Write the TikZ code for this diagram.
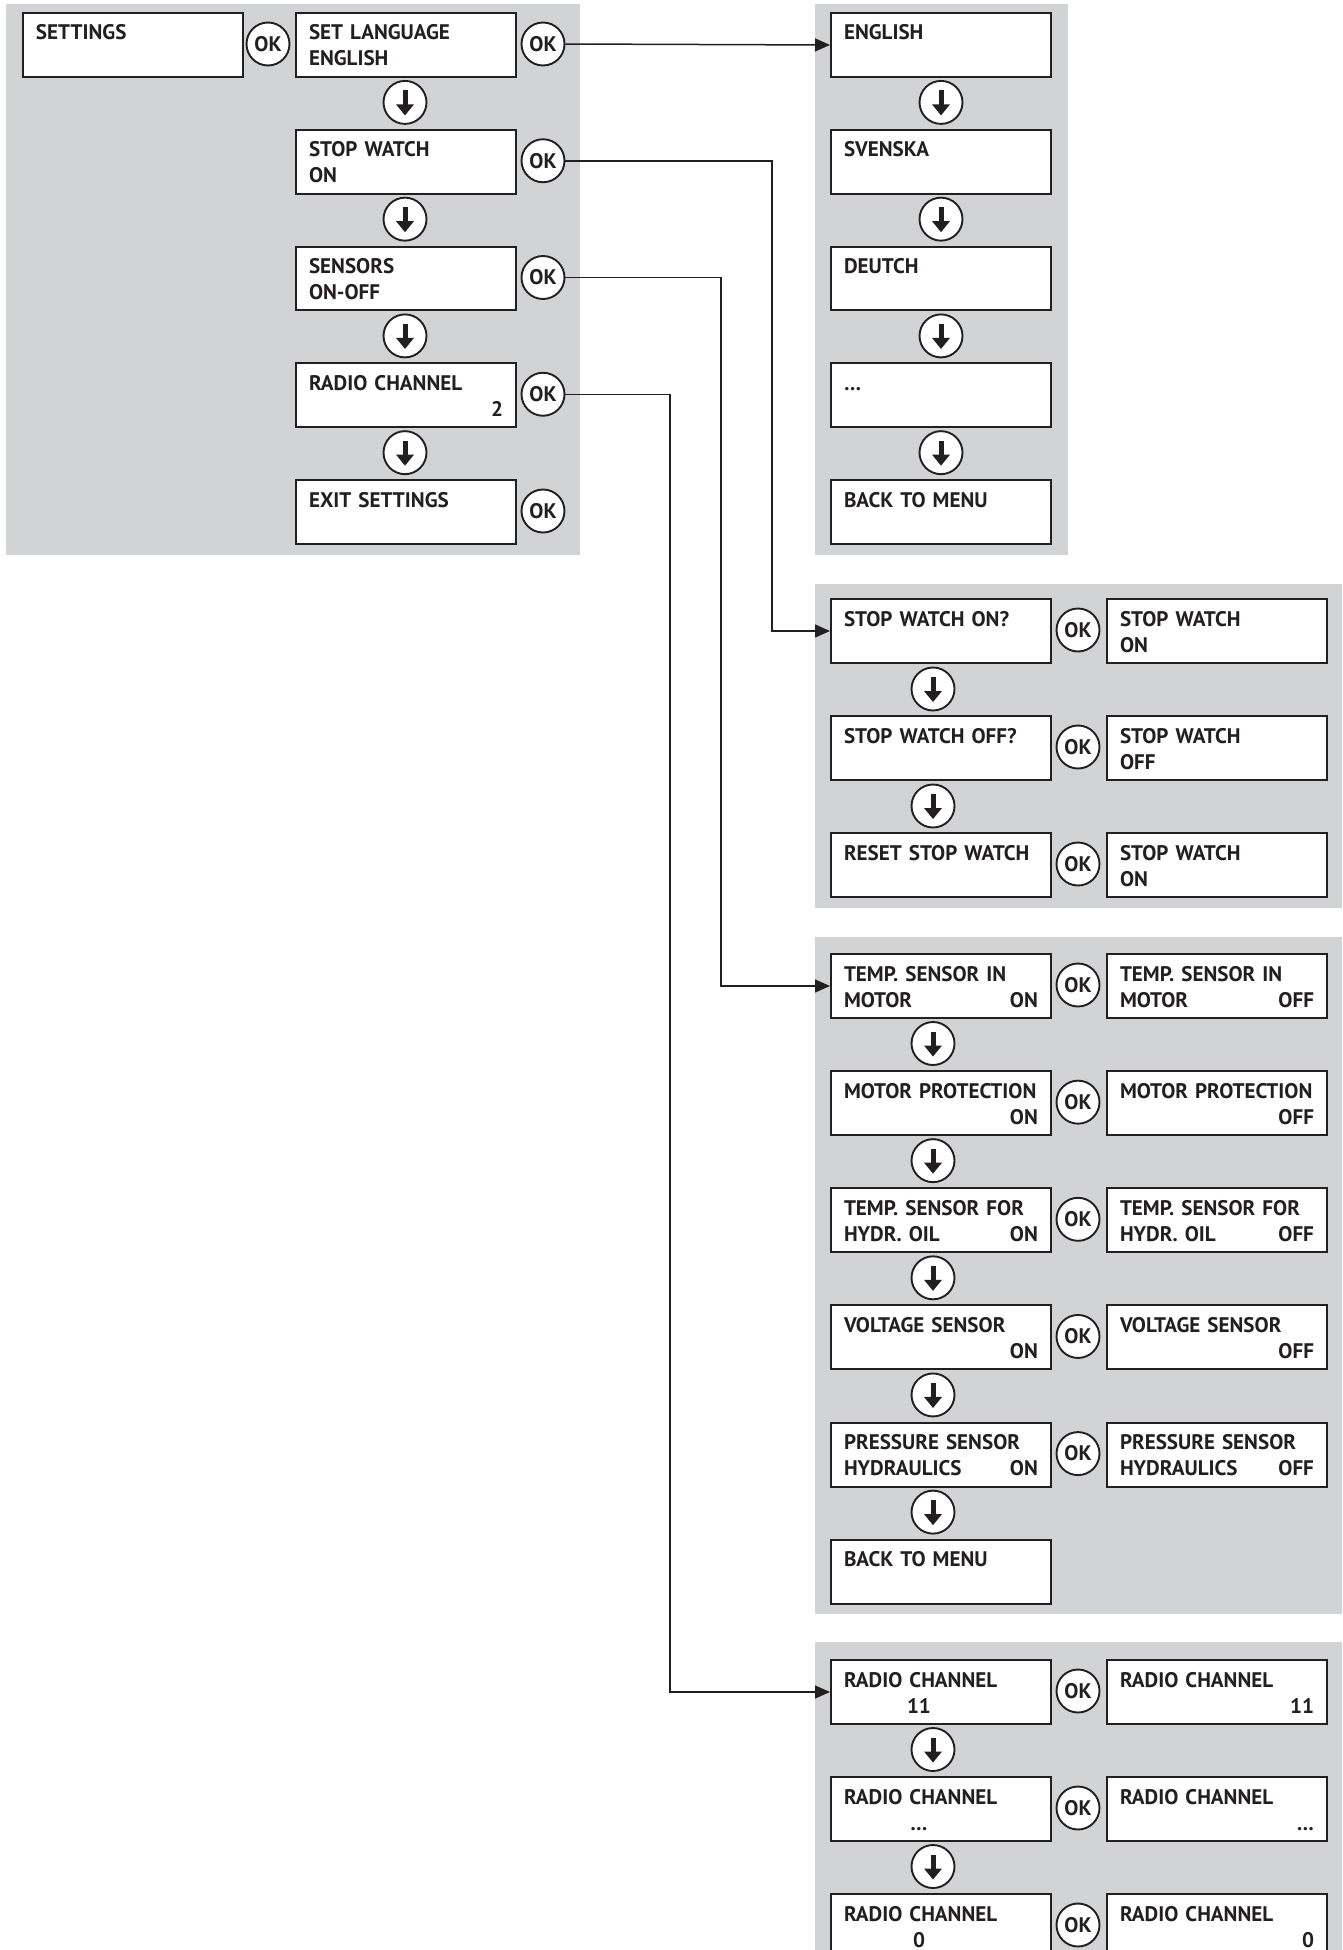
\documentclass[tikz,border=0pt]{standalone}
\usepackage{fontspec}
\newfontfamily\menufont{PT Sans}[BoldFont={PT Sans Bold}]
\usetikzlibrary{arrows.meta}
\definecolor{ink}{HTML}{231F20}
\definecolor{panel}{HTML}{D1D3D4}
\tikzset{
  menubox/.style={rectangle,draw=ink,line width=0.04cm,fill=white,anchor=north west,
    minimum width=4.4cm,minimum height=1.28cm,inner xsep=0.26cm,inner ysep=0.24cm,
    text width=3.88cm,align=left,text height=0.3cm,text depth=0.5cm,text=ink,
    font=\menufont\bfseries\fontsize{12pt}{14.8pt}\selectfont},
  okbtn/.style={circle,draw=ink,line width=0.038cm,fill=white,minimum size=0.86cm,
    inner sep=0pt,text=ink,font=\menufont\bfseries\fontsize{12pt}{14pt}\selectfont},
  downbtn/.style={circle,draw=ink,line width=0.038cm,fill=white,minimum size=0.86cm,
    inner sep=0pt,path picture={
      \fill[ink] (path picture bounding box.center) ++(-0.05cm,0.24cm) rectangle ++(0.1cm,-0.3cm);
      \fill[ink] (path picture bounding box.center) ++(-0.18cm,-0.04cm) -- ++(0.36cm,0)
        -- ++(-0.18cm,-0.22cm) -- cycle;}},
  link/.style={ink,line width=0.03cm,-{Triangle[length=0.3cm,width=0.26cm]}},
}

\begin{document}
\begin{tikzpicture}[x=0.02cm,y=-0.02cm]
  \useasboundingbox (0,0) rectangle (1342,1950);
  \clip (0,0) rectangle (1342,1950);
  % ---------- panels ----------
  \fill[panel] (6,4) rectangle (580,555);
  \fill[panel] (815,4) rectangle (1068,555);
  \fill[panel] (815,584) rectangle (1342,908);
  \fill[panel] (815,937) rectangle (1342,1614);
  \fill[panel] (815,1642) rectangle (1342,1950);
  % ---------- settings ----------
  \node[menubox] (set) at (22,12) {SETTINGS};
  \node[okbtn] (setok) at (268,44) {OK};
  \foreach \txt [count=\i from 0] in {{SET LANGUAGE\\ENGLISH},{STOP WATCH\\ON},
      {SENSORS\\ON-OFF},{RADIO CHANNEL\\\mbox{}\hfill 2},{EXIT SETTINGS}}{
    \node[menubox] (m\i) at (295,12+116.75*\i) {\txt};
    \node[okbtn] (mok\i) at (543,44+116.75*\i) {OK};
  }
  \foreach \i in {0,...,3} \node[downbtn] (md\i) at (405,102.4+116.75*\i) {};
  % ---------- language ----------
  \foreach \txt [count=\i from 0] in {ENGLISH,SVENSKA,DEUTCH,…,BACK TO MENU}
    \node[menubox] (l\i) at (830,12+116.75*\i) {\txt};
  \foreach \i in {0,...,3} \node[downbtn] (ld\i) at (941,102.4+116.75*\i) {};
  % ---------- stop watch ----------
  \foreach \q/\a [count=\i from 0] in {STOP WATCH ON?/ON,STOP WATCH OFF?/OFF,RESET STOP WATCH/ON}{
    \node[menubox] (w\i) at (830,598+117*\i) {\q};
    \node[okbtn] (wok\i) at (1078,630+117*\i) {OK};
    \node[menubox] (wr\i) at (1106,598+117*\i) {STOP WATCH\\\a};
  }
  \foreach \i in {0,1} \node[downbtn] (wd\i) at (933,689+117*\i) {};
  % ---------- sensors ----------
  \foreach \q/\n [count=\i from 0] in {TEMP. SENSOR IN/MOTOR,MOTOR PROTECTION/\mbox{},
      TEMP. SENSOR FOR/HYDR. OIL,VOLTAGE SENSOR/\mbox{},PRESSURE SENSOR/HYDRAULICS}{
    \node[menubox] (s\i) at (830,953+117.15*\i) {\q\\\n\hfill ON};
    \node[okbtn] (sok\i) at (1078,985+117.15*\i) {OK};
    \node[menubox] (sr\i) at (1106,953+117.15*\i) {\q\\\n\hfill OFF};
  }
  \node[menubox] (s5) at (830,953+117.15*5) {BACK TO MENU};
  \foreach \i in {0,...,4} \node[downbtn] (sd\i) at (933,1043.5+117.15*\i) {};
  % ---------- radio channel ----------
  \foreach \v [count=\i from 0] in {11,…,0}{
    \node[menubox] (r\i) at (830,1659+117*\i) {RADIO CHANNEL\\\makebox[3cm]{\v}};
    \node[okbtn] (rok\i) at (1078,1691+117*\i) {OK};
    \node[menubox] (rr\i) at (1106,1659+117*\i) {RADIO CHANNEL\\\mbox{}\hfill\v};
  }
  \foreach \i in {0,1} \node[downbtn] (rd\i) at (933,1749.5+117*\i) {};
  % ---------- links ----------
  \coordinate (busW) at (772,0);
  \coordinate (busS) at (721,0);
  \coordinate (busR) at (670,0);
  \draw[link] (mok0.east) -- (l0.west);
  \draw[link] (mok1.east) -- (mok1.east -| busW) |- (w0.west);
  \draw[link] (mok2.east) -- (mok2.east -| busS) |- (s0.west);
  \draw[link] (mok3.east) -- (mok3.east -| busR) |- (r0.west);
\end{tikzpicture}
\end{document}
